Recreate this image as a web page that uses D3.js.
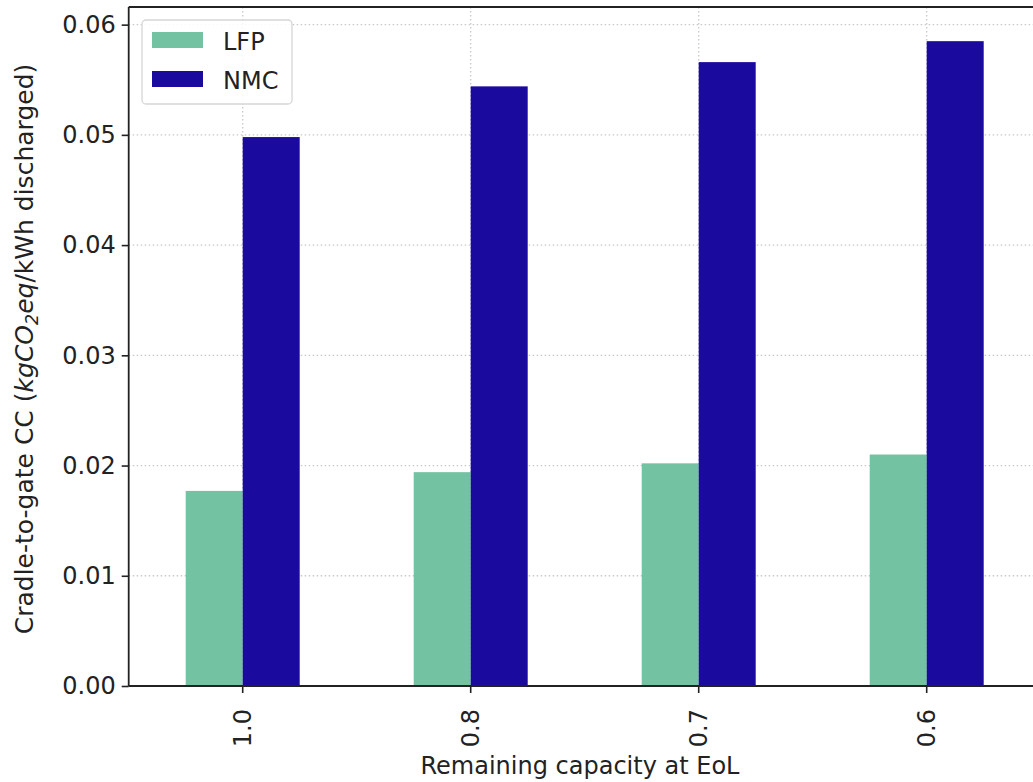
<!DOCTYPE html>
<html><head><meta charset="utf-8">
<script src="https://cdn.jsdelivr.net/npm/d3@7"></script>
<style>
body{margin:0;background:#fff;}
svg{display:block;font-family:"DejaVu Sans",sans-serif;}
</style></head>
<body><svg id="chart" width="1033" height="782"></svg>
<script>
const categories = ["1.0", "0.8", "0.7", "0.6"];
const seriesNames = ["LFP", "NMC"];
const lfpValues = [0.0177, 0.0194, 0.0202, 0.0210];
const nmcValues = [0.0498, 0.0544, 0.0566, 0.0585];
const yTicks = [0.00, 0.01, 0.02, 0.03, 0.04, 0.05, 0.06];
const colors = {LFP: "#73c2a2", NMC: "#1a0a9e"};

(function () {
const svg = d3.select("#chart");
const pLeft = 128.7, pRight = 1040.7, pTop = 7, pBottom = 686;
const fs = 24;
const fsY = 25;

const x = d3.scaleBand().domain(categories).range([pLeft, pRight]).padding(0);
const y = d3.scaleLinear().domain([0, 0.0616]).range([pBottom, pTop]);
const bw = x.bandwidth();
const x1 = d3.scaleBand().domain(seriesNames).range([-bw * 0.25, bw * 0.25]).padding(0);

// grid
const grid = svg.append("g");
grid.selectAll("line.h").data(yTicks).enter().append("line")
  .attr("x1", pLeft).attr("x2", 1033).attr("y1", d => y(d)).attr("y2", d => y(d))
  .attr("stroke", "#c8c8c8").attr("stroke-width", 1.3).attr("stroke-dasharray", "1.5,2.5");
grid.selectAll("line.v").data(categories).enter().append("line")
  .attr("y1", pTop).attr("y2", pBottom).attr("x1", d => x(d) + bw / 2).attr("x2", d => x(d) + bw / 2)
  .attr("stroke", "#c8c8c8").attr("stroke-width", 1.3).attr("stroke-dasharray", "1.5,2.5");

// bars
const data = [];
categories.forEach((c, i) => {
  data.push({cat: c, s: "LFP", v: lfpValues[i]});
  data.push({cat: c, s: "NMC", v: nmcValues[i]});
});
svg.append("g").selectAll("rect").data(data).enter().append("rect")
  .attr("x", d => x(d.cat) + bw / 2 + x1(d.s))
  .attr("width", x1.bandwidth())
  .attr("y", d => y(d.v))
  .attr("height", d => y(0) - y(d.v))
  .attr("fill", d => colors[d.s]);

// axes
const yAxis = d3.axisLeft(y).tickValues(yTicks).tickFormat(d3.format(".2f")).tickSize(7).tickPadding(6);
const gy = svg.append("g").attr("transform", `translate(${pLeft},0)`).call(yAxis);
gy.select(".domain").remove();
gy.selectAll(".tick line").attr("stroke", "#222").attr("stroke-width", 1.6);
gy.selectAll(".tick text").attr("font-size", fs).attr("fill", "#222").attr("font-family", "DejaVu Sans");

const xAxis = d3.axisBottom(x).tickSize(7).tickPadding(0);
const gx = svg.append("g").attr("transform", `translate(0,${pBottom})`).call(xAxis);
gx.select(".domain").remove();
gx.selectAll(".tick line").attr("stroke", "#222").attr("stroke-width", 1.6);
gx.selectAll(".tick text").attr("font-size", fs).attr("fill", "#222").attr("font-family", "DejaVu Sans")
  .attr("text-anchor", "end").attr("transform", "translate(0,23) rotate(-90)").attr("x", 0).attr("y", 0).attr("dy", "0.35em");

// spines
svg.append("line").attr("x1", pLeft).attr("x2", pLeft).attr("y1", pTop).attr("y2", pBottom).attr("stroke", "#222").attr("stroke-width", 1.8);
svg.append("line").attr("x1", pLeft).attr("x2", 1033).attr("y1", pBottom).attr("y2", pBottom).attr("stroke", "#222").attr("stroke-width", 1.8);
svg.append("line").attr("x1", pLeft).attr("x2", 1033).attr("y1", pTop).attr("y2", pTop).attr("stroke", "#222").attr("stroke-width", 1.8);

// labels
svg.append("text").attr("x", 580).attr("y", 774).attr("text-anchor", "middle")
  .attr("font-size", fs).attr("fill", "#222").text("Remaining capacity at EoL");

const yl = svg.append("text").attr("transform", "translate(33,349) rotate(-90)").attr("text-anchor", "middle")
  .attr("font-size", fsY).attr("fill", "#222");
yl.append("tspan").text("Cradle-to-gate CC (");
yl.append("tspan").attr("font-style", "italic").text("kgCO");
yl.append("tspan").attr("font-style", "italic").attr("font-size", fsY * 0.7).attr("dy", 5).text("2");
yl.append("tspan").attr("font-style", "italic").attr("dy", -5).text("eq");
yl.append("tspan").text("/kWh discharged)");

// legend
const lg = svg.append("g");
lg.append("rect").attr("x", 142).attr("y", 20).attr("width", 150).attr("height", 84).attr("rx", 4)
  .attr("fill", "#fff").attr("fill-opacity", 0.85).attr("stroke", "#d6d6d6").attr("stroke-width", 1.3);
seriesNames.forEach((s, i) => {
  lg.append("rect").attr("x", 152).attr("y", 32 + i * 39).attr("width", 51).attr("height", 16).attr("fill", colors[s]);
  lg.append("text").attr("x", 223).attr("y", 50 + i * 38.5).attr("font-size", fs).attr("fill", "#222").text(s);
});
})();
</script></body></html>
